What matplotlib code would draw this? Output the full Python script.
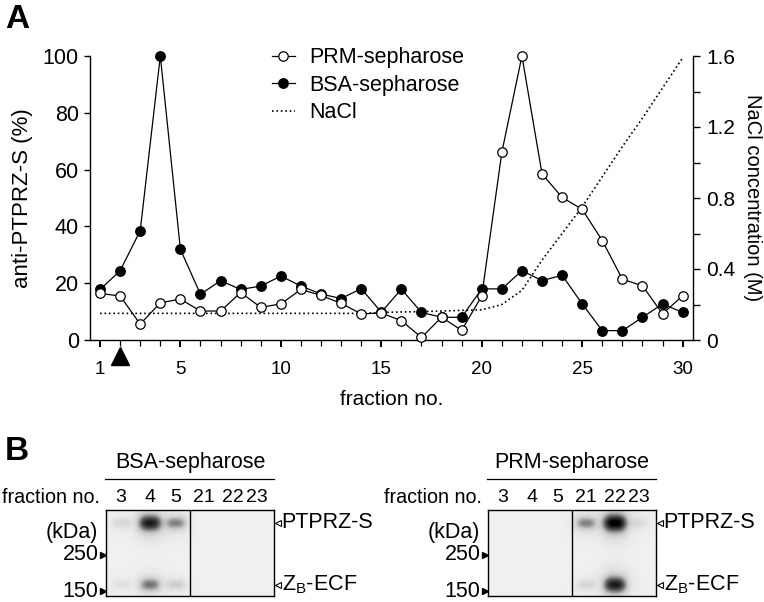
import matplotlib.pyplot as plt
import numpy as np
from matplotlib.colors import LinearSegmentedColormap
from matplotlib.transforms import blended_transform_factory

plt.rcParams['font.family'] = ['Liberation Sans', 'DejaVu Sans']
plt.rcParams['mathtext.fontset'] = 'custom'
plt.rcParams['mathtext.rm'] = 'Liberation Sans'
plt.rcParams['mathtext.it'] = 'Liberation Sans'

# ---- panel A data ----
fractions = list(range(1, 31))
prm = [16.4, 15.5, 5.6, 13.1, 14.4, 10.2, 10.2, 16.7, 11.5, 12.7,
       17.8, 15.7, 12.9, 9.2, 9.5, 6.8, 0.9, 8.0, 3.4, 15.5,
       66.1, 100, 58.5, 50.2, 46.0, 35.0, 21.4, 19.1, 9.2, 15.6]
bsa = [17.8, 24.4, 38.5, 100, 31.9, 16.1, 20.9, 17.8, 19.0, 22.5,
       19.0, 16.2, 14.6, 18.1, 9.8, 17.9, 9.7, 8.0, 8.0, 18.0,
       18.0, 24.4, 20.9, 22.8, 12.7, 3.3, 3.3, 8.0, 12.7, 9.7]
nacl = [0.15, 0.15, 0.15, 0.15, 0.15, 0.15, 0.15, 0.15, 0.15, 0.15,
        0.15, 0.15, 0.15, 0.15, 0.155, 0.158, 0.16, 0.163, 0.167, 0.17,
        0.20, 0.28, 0.45, 0.60, 0.75, 0.92, 1.09, 1.25, 1.42, 1.59]
x_major = [1, 5, 10, 15, 20, 25, 30]
nacl_ticks = [0, 0.4, 0.8, 1.2, 1.6]
nacl_labels = ['0', '0.4', '0.8', '1.2', '1.6']
load_fraction = 2

# ---- panel B data ----
lanes = ['3', '4', '5', '21', '22', '23']
bsa_upper = [0.15, 0.85, 0.45, 0, 0, 0]
bsa_lower = [0.1, 0.5, 0.2, 0, 0, 0]
prm_upper = [0, 0, 0, 0.45, 1.0, 0.12]
prm_lower = [0, 0, 0, 0.16, 0.85, 0]

W, H = 764, 602
fig = plt.figure(figsize=(W / 100, H / 100), dpi=100)


def box(x0, x1, y0, y1):
    # pixel box (top-left origin) -> figure fraction rect
    return [x0 / W, 1 - y1 / H, (x1 - x0) / W, (y1 - y0) / H]


# ================= panel A =================
ax = fig.add_axes(box(90, 692.7, 56, 340))
ax2 = ax.twinx()
ax.set_zorder(ax2.get_zorder() + 1)
ax.patch.set_visible(False)

l_prm, = ax.plot(fractions, prm, '-o', color='black', lw=0.9, ms=6.8,
                 mfc='white', mec='black', mew=0.9, clip_on=False, zorder=4)
l_bsa, = ax.plot(fractions, bsa, '-o', color='black', lw=0.9, ms=6.8,
                 mfc='black', mec='black', clip_on=False, zorder=3)
l_nacl, = ax2.plot(fractions, nacl, ':', color='black', lw=1.2)

ax.set_xlim(0.5, 30.5)
ax.set_ylim(0, 100)
ax2.set_ylim(0, 1.6)
ax.set_xticks(x_major)
ax.set_xticks(fractions, minor=True)
ax.set_yticks([0, 20, 40, 60, 80, 100])
ax2.set_yticks(nacl_ticks)
ax2.set_yticklabels(nacl_labels)
ax2.set_yticks([0.2, 0.6, 1.0, 1.4], minor=True)

for a in (ax, ax2):
    for s in a.spines.values():
        s.set_linewidth(1.0)
ax.spines['top'].set_visible(False)
ax.spines['right'].set_visible(False)
ax2.spines['top'].set_visible(False)
ax2.spines['left'].set_visible(False)
ax2.spines['bottom'].set_visible(False)

ax.tick_params(axis='x', which='major', length=5, width=1.4, pad=10, labelsize=13.5)
ax.tick_params(axis='x', which='minor', length=4.5, width=0.9)
ax.tick_params(axis='y', length=4, width=1.0, pad=4, labelsize=15.5)
ax2.tick_params(axis='y', which='major', length=5, width=1.0, pad=5, labelsize=15)
ax2.tick_params(axis='y', which='minor', length=5, width=1.0)

ax.set_xlabel('fraction no.', fontsize=15, labelpad=9)
ax.set_ylabel('anti-PTPRZ-S (%)', fontsize=16, labelpad=7)
ax2.set_ylabel('NaCl concentration (M)', fontsize=14.5, rotation=270,
               va='bottom', labelpad=5)

# loading arrow under fraction 2
tr = blended_transform_factory(ax.transData, ax.transAxes)
ax.plot([load_fraction], [-0.058], marker='^', ms=13, color='black',
        transform=tr, clip_on=False)

ax.legend([l_prm, l_bsa, l_nacl], ['PRM-sepharose', 'BSA-sepharose', 'NaCl'],
          loc='upper left', bbox_to_anchor=(0.302, 1.03), frameon=False,
          fontsize=15.5, handlelength=1.05, handletextpad=0.7,
          labelspacing=0.3, borderpad=0, borderaxespad=0, numpoints=1)

fig.text(5 / W, 1 - 4 / H, 'A', fontsize=24, fontweight='bold', va='top')
fig.text(5 / W, 1 - 436 / H, 'B', fontsize=24, fontweight='bold', va='top')

# ================= panel B =================
cmap = LinearSegmentedColormap.from_list(
    'blot', [(0, '#f0f0f0'), (0.25, '#c8c8c8'), (0.6, '#5a5a5a'), (1, '#000000')])
lane_pos = [0.54, 1.57, 2.5, 3.5, 4.54, 5.39]
band_y = [0.85, 0.13]


def blot(x0, title, upper, lower):
    bx = fig.add_axes(box(x0, x0 + 168, 510, 596))
    xs = np.linspace(0, 6, 340)
    ys = np.linspace(0, 1, 180)
    X, Y = np.meshgrid(xs, ys)
    img = np.zeros_like(X)
    for row, vals in zip(band_y, (upper, lower)):
        for xc, v in zip(lane_pos, vals):
            if v <= 0:
                continue
            w = 0.33 + 0.08 * v
            h = 0.05 + 0.045 * v
            core = np.exp(-(np.abs(X - xc) / w) ** 3 - ((Y - row) / h) ** 2)
            halo = np.exp(-((X - xc) / (w * 1.3)) ** 2 - ((Y - row) / (h * 2.2)) ** 2)
            img += v * (0.8 * core + 0.25 * halo)
    bx.imshow(np.clip(img, 0, 1), extent=[0, 6, 0, 1], origin='lower',
              cmap=cmap, vmin=0, vmax=1, aspect='auto', interpolation='bilinear')
    bx.axvline(3, color='black', lw=1.0)
    bx.set_xlim(0, 6)
    bx.set_ylim(0, 1)
    bx.set_xticks([])
    bx.set_yticks([])
    for s in bx.spines.values():
        s.set_linewidth(1.0)

    t = blended_transform_factory(bx.transData, bx.transAxes)
    for xc, lab in zip(lane_pos, lanes):
        bx.text(xc, 1.14, lab, transform=t, ha='center', va='center', fontsize=14)
    bx.text(-0.036, 1.14, 'fraction no.', transform=bx.transAxes,
            ha='right', va='center', fontsize=14.2)
    bx.text(0.5, 1.55, title, transform=bx.transAxes, ha='center',
            va='center', fontsize=15.5)
    bx.plot([-0.005, 1.0], [1.36, 1.36], color='black', lw=0.9,
            transform=bx.transAxes, clip_on=False)

    bx.text(-0.045, 0.733, '(kDa)', transform=bx.transAxes, ha='right',
            va='center', fontsize=15.5)
    for yy, lab in zip([0.477, 0.058], ['250', '150']):
        bx.text(-0.045, yy, lab, transform=bx.transAxes, ha='right',
                va='center', fontsize=15.5)
        bx.plot([-0.02], [yy], marker='>', ms=5, color='black',
                transform=bx.transAxes, clip_on=False)
    for yy, lab in zip([0.849, 0.128], ['PTPRZ-S', r'Z$_{\mathrm{B}}$-ECF']):
        bx.plot([1.022], [yy], marker='<', ms=4.5, mfc='white', mec='black',
                mew=0.8, transform=bx.transAxes, clip_on=False)
        bx.text(1.045, yy, lab, transform=bx.transAxes, ha='left',
                va='center', fontsize=15.5)


blot(106, 'BSA-sepharose', bsa_upper, bsa_lower)
blot(488, 'PRM-sepharose', prm_upper, prm_lower)

fig.savefig('out.png', dpi=100)
